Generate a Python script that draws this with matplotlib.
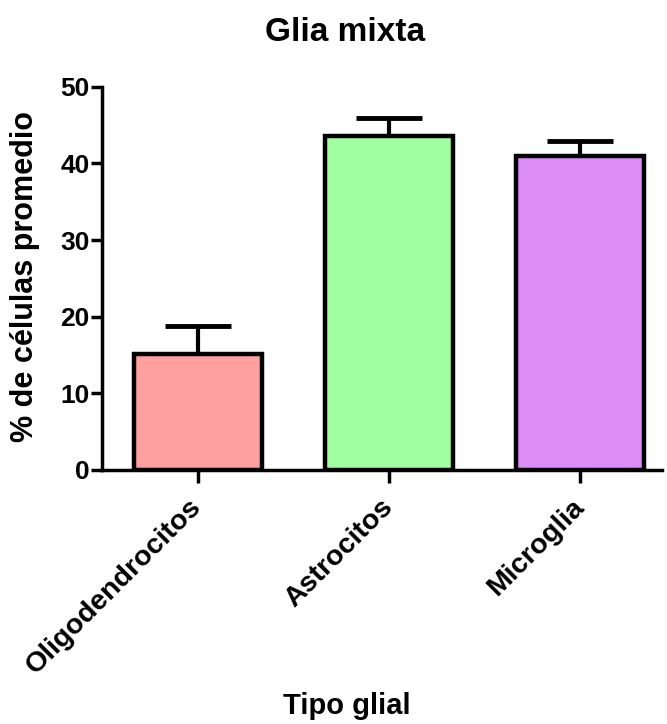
import matplotlib
matplotlib.use("Agg")
import matplotlib.pyplot as plt

categories = ["Oligodendrocitos", "Astrocitos", "Microglia"]
means = [15.1, 43.6, 41.0]
errors = [3.7, 2.4, 1.9]
colors = ["#ffa0a0", "#a0ffa0", "#dc8cf5"]
yticks = [0, 10, 20, 30, 40, 50]

plt.rcParams['font.family'] = ['Liberation Sans', 'DejaVu Sans']
plt.rcParams['font.weight'] = 'bold'

fig = plt.figure(figsize=(6.67, 7.24), dpi=100)
ax = fig.add_axes([0.153, 0.351, 0.84, 0.529])

x = list(range(len(categories)))
ax.bar(x, means, width=0.67, color=colors, edgecolor="black", linewidth=3.2, zorder=2)
ax.errorbar(x, means, yerr=[[0] * len(errors), errors], fmt="none", ecolor="black",
            elinewidth=3, capsize=24, capthick=3.5, zorder=1)

ax.set_ylim(0, 50)
ax.set_xlim(-0.5, 2.43)
ax.set_yticks(yticks)
ax.set_xticks(x)
ax.set_xticklabels(categories, rotation=45, ha="right", va="center",
                   rotation_mode="anchor", fontsize=20.5)
ax.tick_params(axis="y", labelsize=19, width=2.5, length=8, pad=1)
ax.tick_params(axis="x", width=2.5, length=9, pad=15)

for s in ["top", "right"]:
    ax.spines[s].set_visible(False)
for s in ["left", "bottom"]:
    ax.spines[s].set_linewidth(2.5)

fig.text(0.038, 0.618, "% de células promedio", fontsize=22, fontweight="bold",
         rotation=90, ha="center", va="center")
fig.text(0.52, 0.025, "Tipo glial", fontsize=21, fontweight="bold", ha="center", va="center")
fig.text(0.518, 0.955, "Glia mixta", fontsize=24, fontweight="bold", ha="center", va="center")

fig.savefig("out.png", dpi=100)
